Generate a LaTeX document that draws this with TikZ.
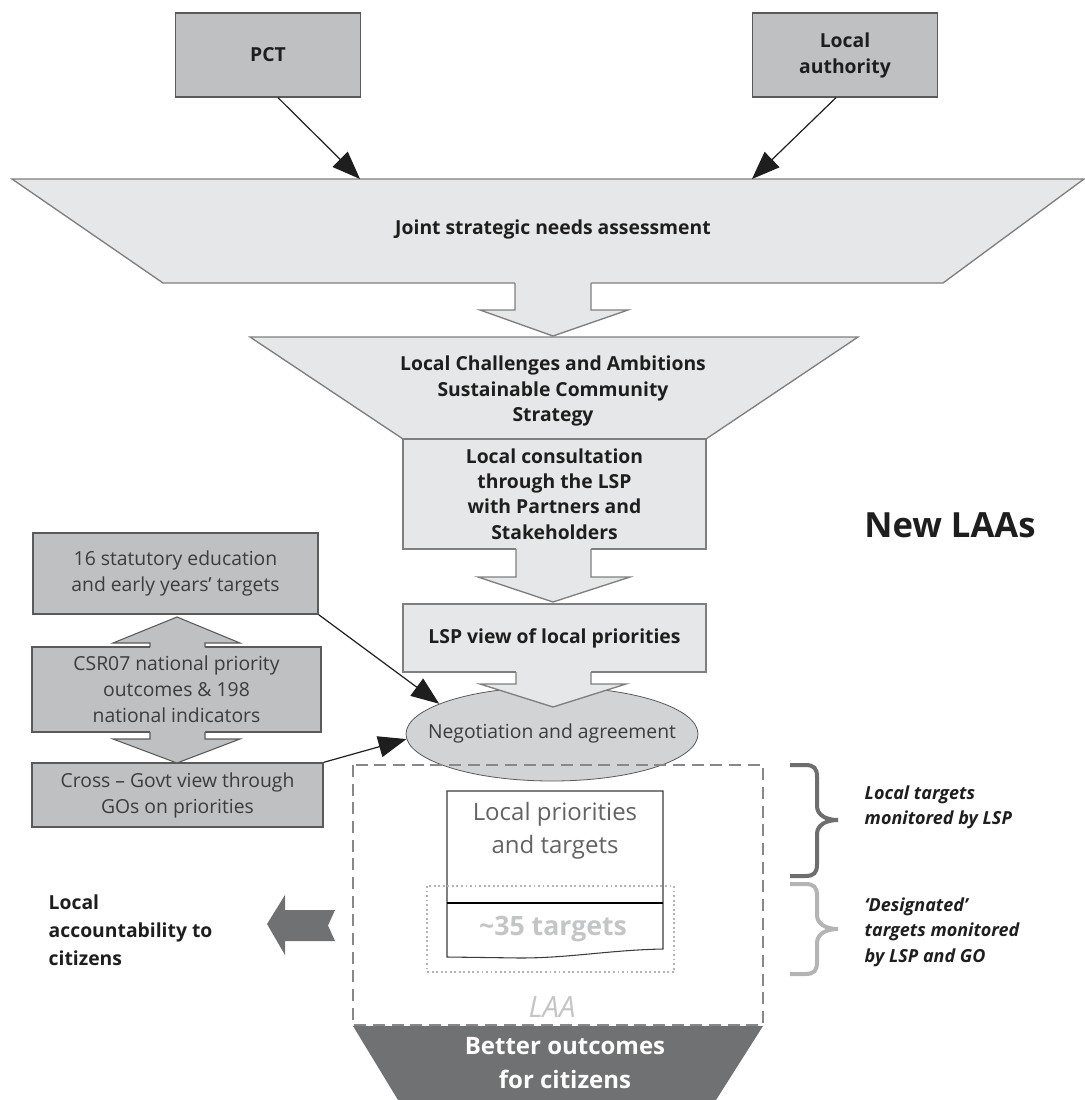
\documentclass[tikz,border=0pt]{standalone}
\usepackage{fontspec}
\setmainfont{Open Sans}
\usetikzlibrary{arrows.meta,shapes.geometric,calc}
\definecolor{boxdark}{HTML}{BFC0C2}
\definecolor{boxlight}{HTML}{E6E7E8}
\definecolor{ellfill}{HTML}{D2D3D5}
\definecolor{edgedark}{HTML}{5A5A5A}
\definecolor{edgelight}{HTML}{7F7F7F}
\definecolor{bottomfill}{HTML}{707173}
\definecolor{txtdark}{HTML}{1E1E1E}
\definecolor{txtgray}{HTML}{3C3C3C}
\definecolor{faint}{HTML}{C4C5C7}
\definecolor{bracedark}{HTML}{6E6E6E}
\definecolor{bracelight}{HTML}{B4B4B4}
\definecolor{laaedge}{HTML}{888888}
\newcommand\fsz[2]{\fontsize{#1}{#2}\selectfont}
\begin{document}
\begin{tikzpicture}[x=0.75pt,y=-0.75pt,
  topbox/.style={draw=edgedark,fill=boxdark,line width=1pt,minimum width=138.75pt,minimum height=63pt,inner sep=0pt,align=center,font=\fsz{14.5}{19.5}\bfseries,text=txtdark},
  lightbox/.style={draw=edgelight,fill=boxlight,line width=1pt,minimum width=227.25pt,inner sep=0pt,align=center,font=\fsz{14.5}{19}\bfseries,text=txtdark},
  leftbox/.style={draw=edgedark,fill=boxdark,line width=1pt,inner sep=0pt,align=center,font=\fsz{14.5}{19.5},text=txtgray},
  lightshape/.style={fill=boxlight,draw=edgelight,line width=1pt},
  boldtext/.style={align=center,font=\fsz{14.5}{19}\bfseries,text=txtdark},
  conn/.style={draw=txtdark,line width=0.9pt,-{Triangle[length=21pt,width=16pt]}},
  sidetext/.style={align=left,anchor=west,font=\fsz{13.5}{19}\bfseries\itshape,text=txtdark}]
\useasboundingbox (0,0) rectangle (1085,1100);

% top source boxes
\node[topbox] (pct) at (268,55) {PCT};
\node[topbox] (la) at (845,55) {Local\\authority};

% joint strategic needs assessment
\draw[lightshape] (12,179) -- (1084,179) -- (943,283) -- (163,283) -- cycle;
\node[boldtext] (jsna) at (553,229) {Joint strategic needs assessment};
\coordinate (jsnaL) at (360,179);
\coordinate (jsnaR) at (752,179);
\draw[conn] ($(pct.south)+(10,0)$) -- (jsnaL);
\draw[conn] ($(la.south)+(-9,0)$) -- (jsnaR);

% block arrow 1
\fill[boxlight] (515,281.5) -- (515,310) -- (480,310) -- (553,336) -- (628,310) -- (591,310) -- (591,281.5) -- cycle;
\draw[edgelight,line width=1pt] (515,283) -- (515,310) -- (480,310) -- (553,336) -- (628,310) -- (591,310) -- (591,283);

% local challenges funnel
\draw[lightshape] (250,337) -- (858,337) -- (706,439) -- (403,439) -- cycle;
\node[boldtext] (lca) at (553,391) {Local Challenges and Ambitions\\Sustainable Community\\Strategy};

% local consultation
\node[lightbox,minimum height=82.5pt] (cons) at (554.5,494) {Local consultation\\through the LSP\\with Partners and\\Stakeholders};

% block arrow 2
\fill[boxlight] (516,547.5) -- (516,577) -- (478,577) -- (553,602) -- (630,577) -- (591,577) -- (591,547.5) -- cycle;
\draw[edgelight,line width=1pt] (516,549) -- (516,577) -- (478,577) -- (553,602) -- (630,577) -- (591,577) -- (591,549);

% LSP view
\node[lightbox,minimum height=51pt] (lspview) at (554.5,638) {LSP view of local priorities};

% negotiation ellipse
\node[ellipse,draw=edgedark,fill=ellfill,line width=0.6pt,minimum width=219pt,minimum height=70.5pt,inner sep=0pt] (neg) at (552,734) {};

% block arrow 3
\fill[boxlight] (516,670.5) -- (516,684) -- (480,684) -- (553,707) -- (626,684) -- (591,684) -- (591,670.5) -- cycle;
\draw[edgelight,line width=1pt] (516,672) -- (516,684) -- (480,684) -- (553,707) -- (626,684) -- (591,684) -- (591,672);
\node[font=\fsz{14.5}{19},text=txtgray] (negtext) at (552,733) {Negotiation and agreement};

% left boxes
\node[leftbox,minimum width=213.75pt,minimum height=60.75pt] (s16) at (175.5,573.5) {16 statutory education\\and early years’ targets};
\node[leftbox,minimum width=216.75pt,minimum height=63.75pt] (csr) at (176.5,689.5) {CSR07 national priority\\outcomes \& 198\\national indicators};
\node[leftbox,minimum width=218.25pt,minimum height=48pt] (cross) at (177.5,795) {Cross – Govt view through\\GOs on priorities};

% double arrows between left boxes
\fill[boxdark] (150,648) -- (150,643) -- (113,643) -- (177,617) -- (240,643) -- (205,643) -- (205,648) -- cycle;
\draw[edgedark,line width=0.8pt] (150,647) -- (150,643) -- (113,643) -- (177,617) -- (240,643) -- (205,643) -- (205,647);
\fill[boxdark] (150,731) -- (150,739) -- (113,739) -- (177,763) -- (240,739) -- (205,739) -- (205,731) -- cycle;
\draw[edgedark,line width=0.8pt] (150,732) -- (150,739) -- (113,739) -- (177,763) -- (240,739) -- (205,739) -- (205,732);

\draw[conn] (s16.south east) -- (neg.165);
\draw[conn] (cross.north east) -- (neg.182);

% LAA region
\fill[bottomfill] (353,1026) -- (763,1026) -- (716,1100) -- (398,1100) -- cycle;
\draw[laaedge,line width=2.2pt,dash pattern=on 9pt off 5pt] (353,765) rectangle (763,1025);
\node[font=\fsz{18}{25}\bfseries,text=white,align=center] (better) at (565,1063) {Better outcomes\\for citizens};
\node[font=\fsz{22}{26}\itshape,text=faint] (laa) at (552,1007) {LAA};

% local priorities document
\draw[txtgray,line width=0.8pt,fill=white] (447,791) -- (663,791) -- (663,949) .. controls (610,950) and (570,958) .. (520,958) -- (447,957) -- cycle;
\draw[black,line width=1.2pt] (447,903) -- (663,903);
\node[font=\fsz{18}{25},text=txtgray!80,align=center] (lp) at (555,831) {Local priorities\\and targets};
\node[font=\fsz{20}{24}\bfseries,text=faint] (t35) at (553,929) {\textasciitilde35 targets};
\draw[bracelight,line width=1.4pt,dotted] (427,886) rectangle (674,972);

% braces
\draw[bracedark,line width=3pt] (790,765) -- (805,765) .. controls (814,765) and (817,768) .. (817,777) -- (817,806) .. controls (817,815) and (826,820) .. (838,820) .. controls (826,820) and (817,825) .. (817,834) -- (817,864) .. controls (817,873) and (814,876) .. (805,876) -- (790,876);
\draw[bracelight,line width=3pt] (790,884) -- (805,884) .. controls (814,884) and (817,887) .. (817,896) -- (817,915) .. controls (817,924) and (826,929) .. (838,929) .. controls (826,929) and (817,934) .. (817,943) -- (817,962) .. controls (817,971) and (814,974) .. (805,974) -- (790,974);
\node[sidetext] (rt1) at (860,807) {Local targets\\monitored by LSP};
\node[sidetext] (rt2) at (860,932) {‘Designated’\\targets monitored\\by LSP and GO};

% New LAAs
\node[font=\fsz{26}{30}\bfseries,text=txtdark] (newlaas) at (950,525) {New LAAs};

% local accountability
\fill[bottomfill] (267,924) -- (285,895) -- (285,910) -- (335,910) -- (328,925.5) -- (335,941) -- (285,941) -- (285,955) -- cycle;
\node[anchor=west,align=left,font=\fsz{14.5}{21}\bfseries,text=txtdark] (acc) at (44,930) {Local\\accountability to\\citizens};
\end{tikzpicture}
\end{document}
